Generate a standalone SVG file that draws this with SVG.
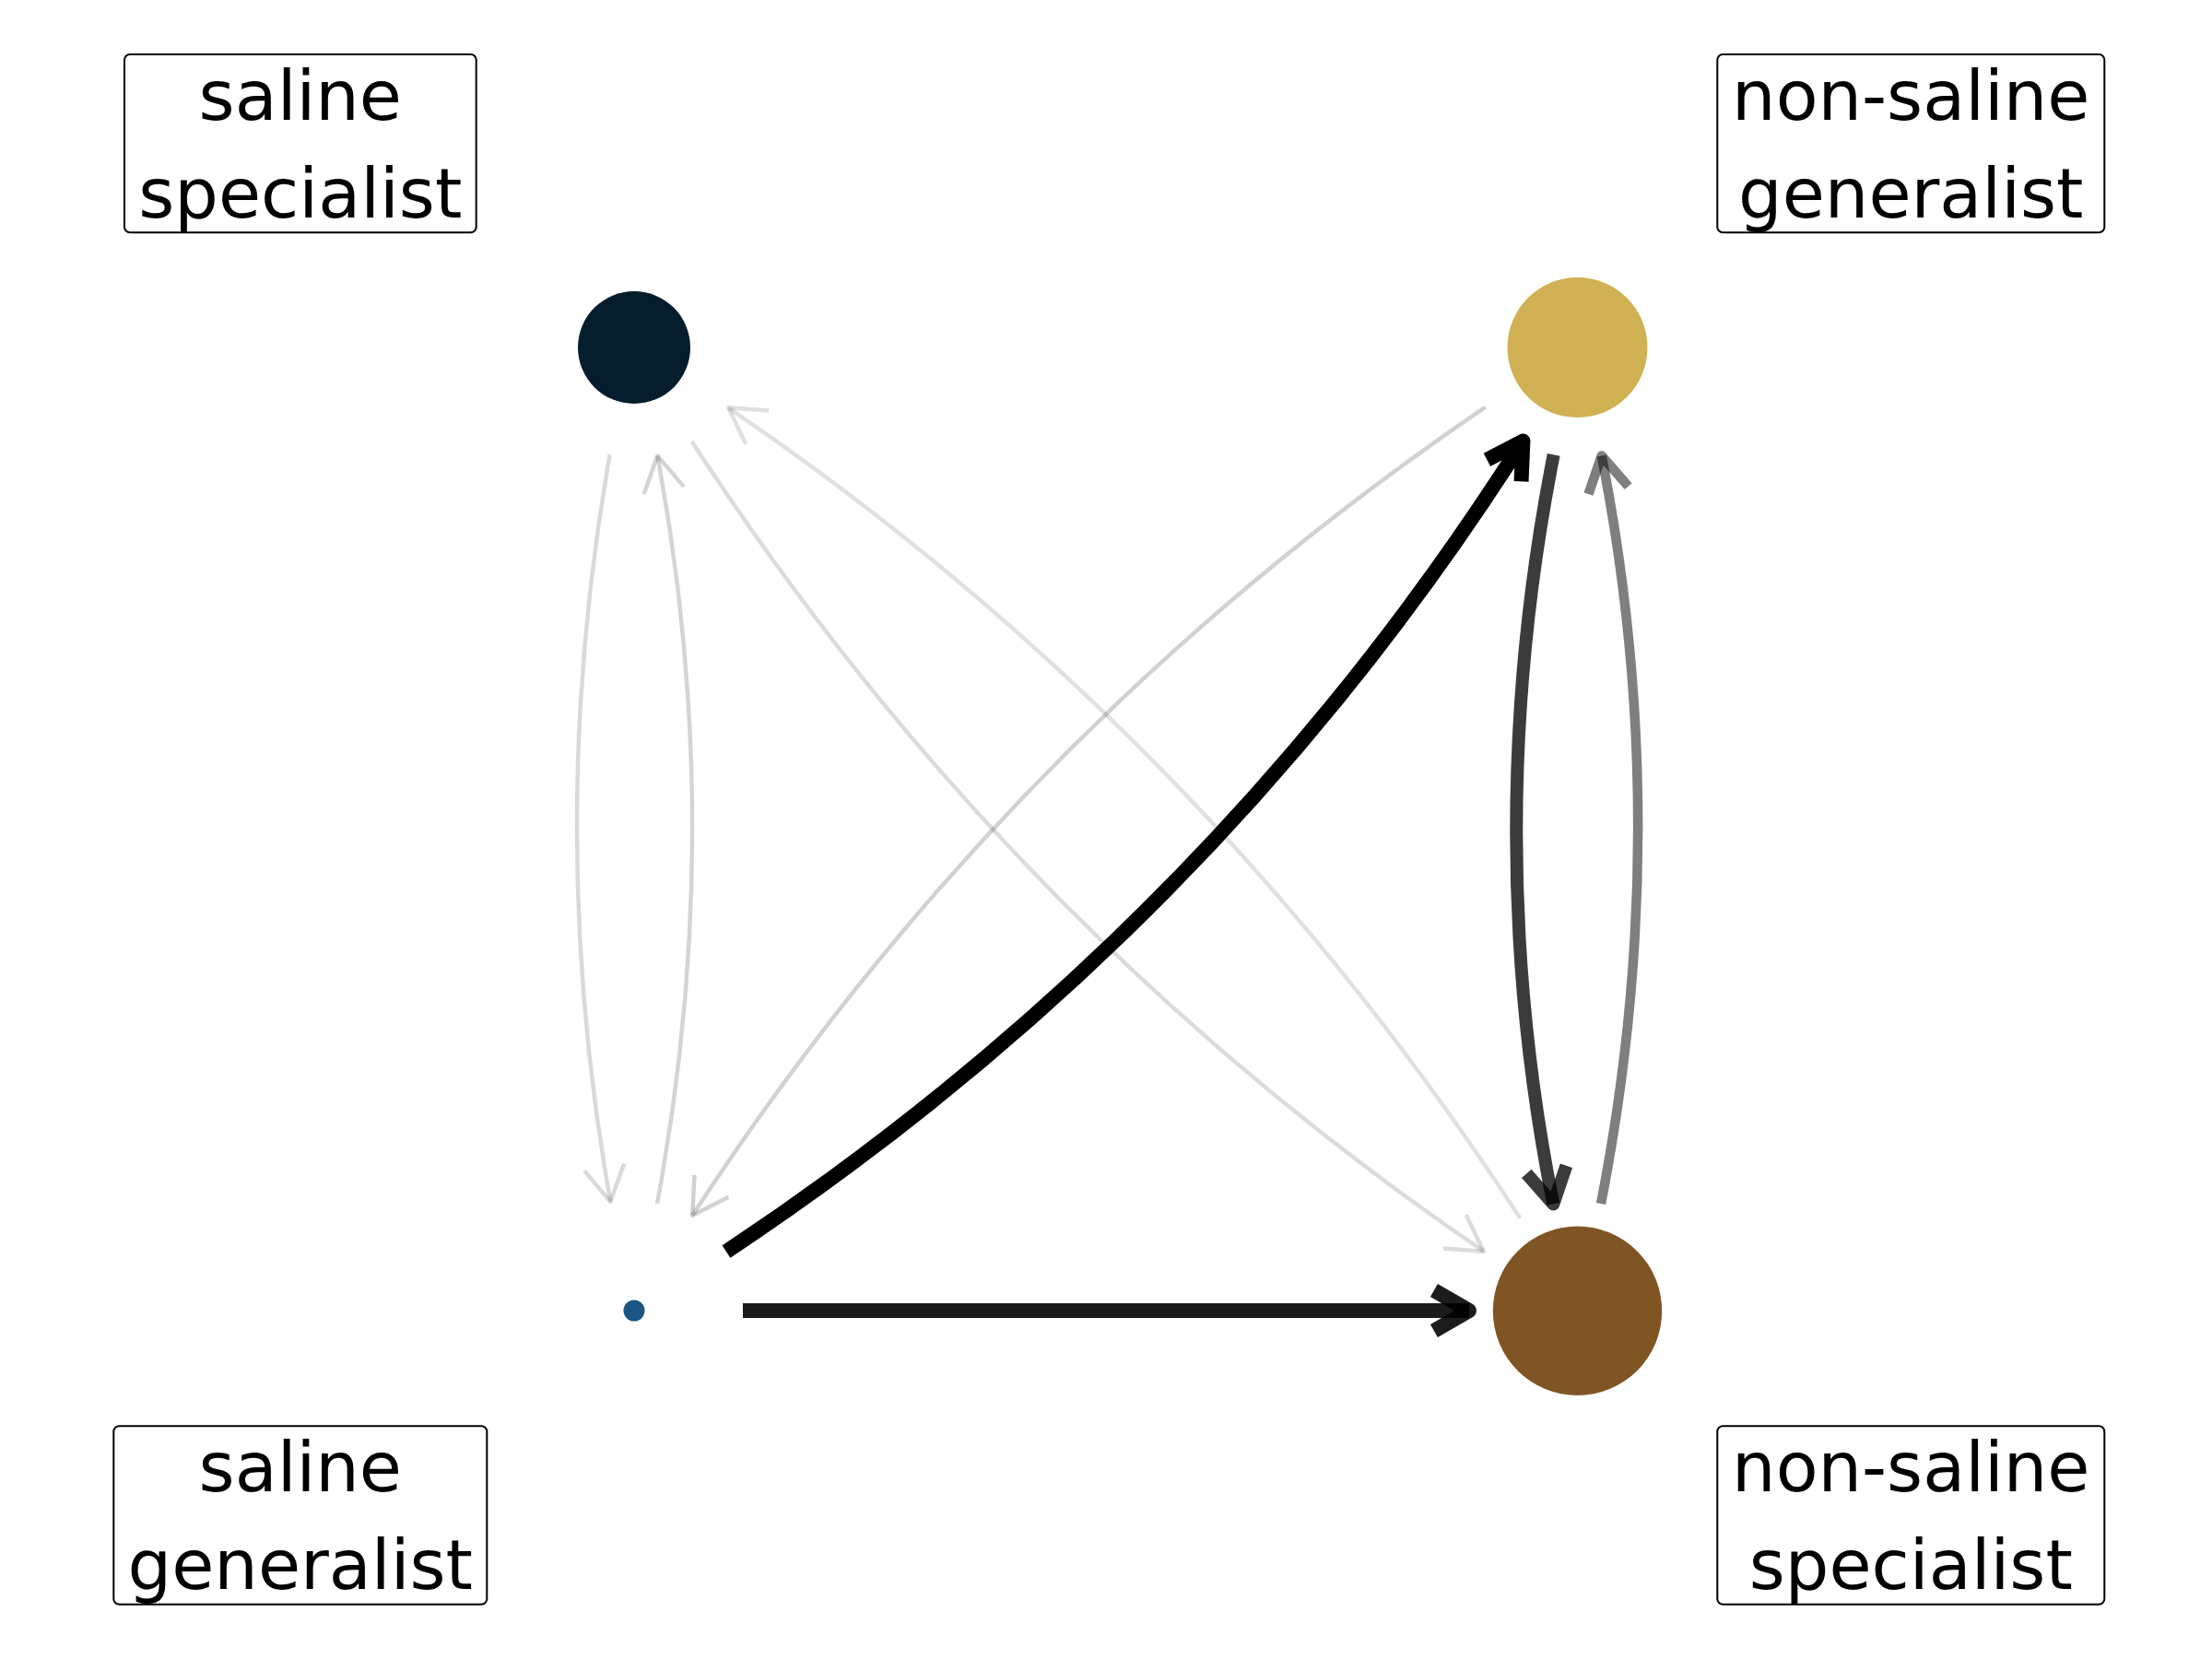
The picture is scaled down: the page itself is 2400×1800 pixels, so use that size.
<svg xmlns="http://www.w3.org/2000/svg" width="2400" height="1800" viewBox="0 0 2400 1800">
<style>
  .lbl rect { fill: #ffffff; stroke: #000000; stroke-width: 2; }
  .lbl text { font-family: "DejaVu Sans", "Liberation Sans", sans-serif; font-size: 75px; fill: #000000; text-anchor: middle; }
  .e { fill: none; stroke: #000000; stroke-linecap: butt; stroke-linejoin: round; }
  .e1 { stroke-opacity: 0.15; stroke-width: 4.5; }
  .e2 { stroke-opacity: 0.17; stroke-width: 4.5; }
  .e3 { stroke-opacity: 0.14; stroke-width: 4.5; }
  .e4 { stroke-opacity: 0.12; stroke-width: 4.5; }
  .e5 { stroke-opacity: 0.18; stroke-width: 4.5; }
  .e6 { stroke-opacity: 1; stroke-width: 16; }
  .e7 { stroke-opacity: 0.77; stroke-width: 14; }
  .e8 { stroke-opacity: 0.5; stroke-width: 10.5; }
  .e9 { stroke-opacity: 0.89; stroke-width: 16; }
</style>
<defs>
  <marker id="a1" markerUnits="userSpaceOnUse" orient="auto" overflow="visible" markerWidth="1" markerHeight="1"><path class="e e1" d="M-38.1,-22 L0,0 L-38.1,22"/></marker>
  <marker id="a2" markerUnits="userSpaceOnUse" orient="auto" overflow="visible" markerWidth="1" markerHeight="1"><path class="e e2" d="M-38.1,-22 L0,0 L-38.1,22"/></marker>
  <marker id="a3" markerUnits="userSpaceOnUse" orient="auto" overflow="visible" markerWidth="1" markerHeight="1"><path class="e e3" d="M-38.1,-22 L0,0 L-38.1,22"/></marker>
  <marker id="a4" markerUnits="userSpaceOnUse" orient="auto" overflow="visible" markerWidth="1" markerHeight="1"><path class="e e4" d="M-38.1,-22 L0,0 L-38.1,22"/></marker>
  <marker id="a5" markerUnits="userSpaceOnUse" orient="auto" overflow="visible" markerWidth="1" markerHeight="1"><path class="e e5" d="M-38.1,-22 L0,0 L-38.1,22"/></marker>
  <marker id="a6" markerUnits="userSpaceOnUse" orient="auto" overflow="visible" markerWidth="1" markerHeight="1"><path class="e e6" d="M-38.1,-22 L0,0 L-38.1,22"/></marker>
  <marker id="a7" markerUnits="userSpaceOnUse" orient="auto" overflow="visible" markerWidth="1" markerHeight="1"><path class="e e7" d="M-38.1,-22 L0,0 L-38.1,22"/></marker>
  <marker id="a8" markerUnits="userSpaceOnUse" orient="auto" overflow="visible" markerWidth="1" markerHeight="1"><path class="e e8" d="M-38.1,-22 L0,0 L-38.1,22"/></marker>
  <marker id="a9" markerUnits="userSpaceOnUse" orient="auto" overflow="visible" markerWidth="1" markerHeight="1"><path class="e e9" d="M-38.1,-22 L0,0 L-38.1,22"/></marker>
</defs>
<rect x="0" y="0" width="2400" height="1800" fill="#ffffff"/>
<g id="connectors">
  <path id="ss-sg" class="e e1" d="M661.7,493 Q590,899 662.3,1303.8" marker-end="url(#a1)"/>
  <path id="sg-ss" class="e e2" d="M713,1306 Q789,899 713.3,494.5" marker-end="url(#a2)"/>
  <path id="ss-nss" class="e e3" d="M750.7,479 Q1092.5,1005.9 1609.8,1357.7" marker-end="url(#a3)"/>
  <path id="nss-ss" class="e e4" d="M1649.3,1321.7 Q1307.5,794.7 790.2,442.3" marker-end="url(#a4)"/>
  <path id="nsg-sg" class="e e5" d="M1611.7,441.7 Q1092.3,794.4 751.2,1318.8" marker-end="url(#a5)"/>
  <path id="sg-nsg" class="e e6" d="M788,1358 Q1316.6,1007.2 1652.4,478.5" marker-end="url(#a6)"/>
  <path id="nsg-nss" class="e e7" d="M1685.7,493.3 Q1605,903 1685.3,1306.4" marker-end="url(#a7)"/>
  <path id="nss-nsg" class="e e8" d="M1737,1306 Q1817,898 1737.7,494.5" marker-end="url(#a8)"/>
  <path id="sg-nss" class="e e9" d="M806,1422 L1594,1422" marker-end="url(#a9)"/>
</g>
<g id="saline-specialist">
  <circle cx="688" cy="377" r="61" fill="#061d2d"/>
  <g class="lbl">
    <rect x="135" y="59" width="381.7" height="193.3" rx="6" ry="6"/>
    <text x="325.8" y="129.5">saline</text>
    <text x="325.8" y="235.5">specialist</text>
  </g>
</g>
<g id="non-saline-generalist">
  <circle cx="1711.5" cy="377" r="76" fill="#d0b153"/>
  <g class="lbl">
    <rect x="1863.3" y="59" width="420" height="193.3" rx="6" ry="6"/>
    <text x="2073.3" y="129.5">non-saline</text>
    <text x="2073.3" y="235.5">generalist</text>
  </g>
</g>
<g id="saline-generalist">
  <circle cx="688" cy="1422" r="11.5" fill="#1a5583"/>
  <g class="lbl">
    <rect x="123.3" y="1547.3" width="405" height="193.4" rx="6" ry="6"/>
    <text x="325.8" y="1618">saline</text>
    <text x="325.8" y="1724">generalist</text>
  </g>
</g>
<g id="non-saline-specialist">
  <circle cx="1711.5" cy="1422.3" r="91.7" fill="#7f5524"/>
  <g class="lbl">
    <rect x="1863.3" y="1547.3" width="420" height="193.4" rx="6" ry="6"/>
    <text x="2073.3" y="1618">non-saline</text>
    <text x="2073.3" y="1724">specialist</text>
  </g>
</g>
</svg>
